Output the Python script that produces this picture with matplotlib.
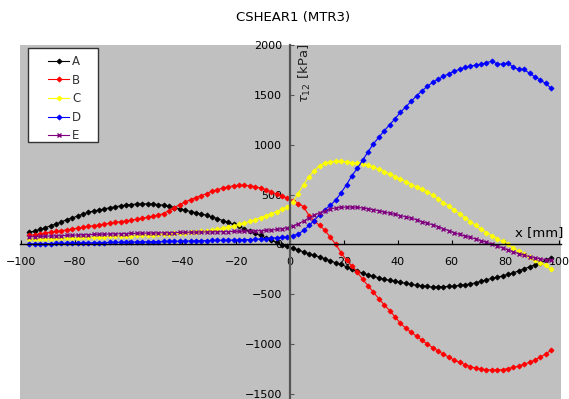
import numpy as np
import matplotlib
matplotlib.use("Agg")
import matplotlib.pyplot as plt
from matplotlib.patches import Rectangle

# element centre positions along the section [mm]
x_mm = list(range(-97, 98, 2))

# shear stress tau12 [kPa], one value per element
series_a = [120, 135, 150, 168, 188, 205, 225, 250, 265, 285, 305, 322, 335, 345, 357, 368, 378, 387, 395, 400,
            405, 407, 407, 405, 400, 393, 383, 370, 357, 343, 330, 318, 305, 292, 275, 258, 240, 220, 200, 180,
            155, 130, 110, 90, 65, 45, 20, -5, -20, -40, -55, -75, -95, -110, -125, -145, -165, -185, -200, -225,
            -250, -270, -290, -305, -320, -335, -350, -360, -370, -380, -390, -400, -410, -415, -420, -430, -425, -425, -420, -420,
            -410, -405, -395, -385, -370, -355, -340, -330, -315, -300, -285, -265, -245, -225, -205, -185, -160, -135]
series_b = [90, 98, 106, 114, 122, 130, 138, 147, 155, 163, 171, 180, 188, 196, 204, 212, 220, 228, 236, 244,
            252, 262, 272, 282, 295, 310, 340, 370, 400, 425, 450, 470, 490, 510, 535, 550, 565, 578, 588, 593,
            593, 588, 580, 565, 548, 528, 505, 485, 465, 440, 410, 380, 290, 235, 190, 140, 70, 0, -85, -160,
            -215, -280, -350, -415, -480, -545, -605, -663, -725, -790, -840, -880, -920, -960, -1000, -1035, -1070, -1100, -1130, -1160,
            -1183, -1205, -1225, -1240, -1250, -1255, -1260, -1260, -1255, -1245, -1233, -1220, -1200, -1183, -1160, -1130, -1100, -1060]
series_c = [50, 52, 54, 56, 58, 60, 62, 64, 66, 68, 70, 72, 74, 76, 78, 80, 82, 84, 86, 88,
            90, 92, 95, 98, 101, 104, 107, 110, 114, 118, 122, 126, 131, 136, 142, 150, 160, 172, 186, 200,
            215, 232, 250, 268, 287, 308, 330, 352, 375, 430, 510, 600, 680, 740, 790, 818, 830, 835, 835, 828,
            820, 815, 810, 795, 775, 755, 730, 705, 680, 655, 630, 600, 580, 555, 525, 495, 460, 420, 385, 345,
            308, 268, 230, 190, 150, 118, 88, 58, 30, 5, -35, -70, -100, -130, -160, -182, -210, -245]
series_d = [5, 6, 7, 8, 9, 10, 11, 12, 13, 14, 15, 16, 17, 18, 19, 20, 21, 22, 23, 24,
            25, 26, 27, 28, 29, 30, 31, 32, 33, 34, 35, 36, 37, 38, 40, 41, 42, 43, 44, 45,
            47, 49, 52, 55, 59, 63, 68, 72, 75, 88, 103, 140, 190, 240, 300, 350, 395, 445, 520, 600,
            690, 765, 845, 930, 1010, 1075, 1140, 1200, 1260, 1325, 1380, 1435, 1490, 1540, 1585, 1625, 1655, 1685, 1712, 1735,
            1757, 1775, 1790, 1798, 1806, 1822, 1839, 1809, 1809, 1822, 1776, 1756, 1756, 1715, 1682, 1648, 1615, 1565]
series_e = [75, 78, 80, 82, 84, 86, 88, 90, 92, 94, 96, 98, 100, 101, 103, 104, 106, 107, 109, 110,
            111, 112, 113, 114, 115, 116, 117, 118, 120, 121, 122, 123, 124, 125, 126, 127, 128, 129, 130, 131,
            132, 134, 136, 138, 140, 144, 150, 158, 168, 185, 205, 235, 265, 295, 318, 340, 357, 366, 372, 375,
            375, 372, 365, 358, 348, 338, 325, 313, 302, 290, 277, 263, 248, 228, 212, 198, 178, 158, 138, 118,
            100, 85, 70, 55, 38, 22, 5, -15, -35, -55, -75, -92, -108, -122, -134, -144, -152, -160]

names = ["A", "B", "C", "D", "E"]
colors = ["#000000", "#ff0000", "#ffff00", "#0000ff", "#800080"]
x_ticks = [-100, -80, -60, -40, -20, 0, 20, 40, 60, 80, 100]
y_ticks = [-1500, -1000, -500, 0, 500, 1000, 1500, 2000]

plt.rcParams['font.family'] = ['DejaVu Sans']

W, H = 569, 399
fig = plt.figure(figsize=(W / 100, H / 100), dpi=100)
ax = fig.add_axes([20 / W, 0.0, 541 / W, 354 / H])
ax.set_facecolor("#c0c0c0")

for name, ys, c in zip(names, [series_a, series_b, series_c, series_d, series_e], colors):
    if name == "E":
        ax.plot(x_mm, ys, color=c, lw=0.8, marker="x", ms=3.0, mew=1.0, label=name, clip_on=False)
    else:
        ax.plot(x_mm, ys, color=c, lw=0.8, marker="D", ms=2.6, mew=0.6, label=name, clip_on=False)

ax.set_xlim(-100.4, 100.7)
ax.set_ylim(-1550, 2000)

# axes cross at the origin
ax.spines['left'].set_position(('data', 0))
ax.spines['bottom'].set_position(('data', 0))
ax.spines['right'].set_visible(False)
ax.spines['top'].set_visible(False)
ax.spines['left'].set_color("#555555")
ax.spines['left'].set_linewidth(1.6)
ax.spines['bottom'].set_color("black")
ax.spines['bottom'].set_linewidth(1.0)

ax.set_xticks(x_ticks)
ax.set_yticks(y_ticks)
ax.tick_params(axis='x', direction='in', length=3, pad=9, labelsize=8, colors='black')
ax.tick_params(axis='y', direction='in', length=3, pad=6, labelsize=8, color='#555555')

fig.text(293 / W, 1 - 18 / H, "CSHEAR1 (MTR3)", ha='center', va='center', fontsize=9.5)
ax.text(0.527, 1.005, r"$\tau_{12}$ [kPa]", transform=ax.transAxes, rotation=90,
        ha='center', va='top', fontsize=9.5, color='#222222')
ax.text(101.5, 115, "x [mm]", ha='right', va='center', fontsize=9.5, clip_on=False)

# legend box drawn by hand, it is wider than matplotlib's own frame
ax.add_patch(Rectangle((28 / W, 1 - 142 / H), 70 / W, 94 / H, transform=fig.transFigure,
                       fc="white", ec="#333333", lw=1.0, zorder=4, clip_on=False))
leg = ax.legend(loc='upper left', bbox_to_anchor=(48 / W, 1 - 55 / H), bbox_transform=fig.transFigure,
                fontsize=8.5, frameon=False, borderpad=0, labelspacing=0.47,
                handlelength=1.8, handletextpad=0.25, borderaxespad=0)
leg.set_zorder(5)
for t in leg.get_texts():
    t.set_color("#333333")

fig.savefig("out.png", dpi=100)
